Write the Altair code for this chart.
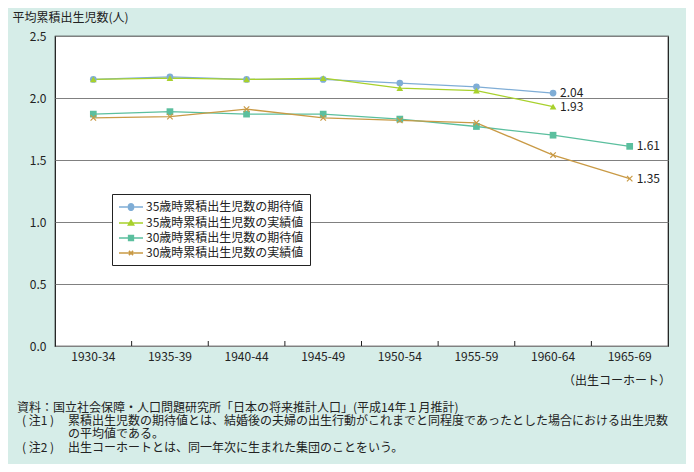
import altair as alt
import pandas as pd

cohorts = ["1930-34", "1935-39", "1940-44", "1945-49", "1950-54", "1955-59", "1960-64", "1965-69"]
series_names = [
    "35歳時累積出生児数の期待値",
    "35歳時累積出生児数の実績値",
    "30歳時累積出生児数の期待値",
    "30歳時累積出生児数の実績値",
]
exp35 = [2.15, 2.17, 2.15, 2.15, 2.12, 2.09, 2.04, None]
act35 = [2.15, 2.16, 2.15, 2.16, 2.08, 2.06, 1.93, None]
exp30 = [1.87, 1.89, 1.87, 1.87, 1.83, 1.77, 1.70, 1.61]
act30 = [1.84, 1.85, 1.91, 1.84, 1.82, 1.80, 1.54, 1.35]
end_labels = ["2.04", "1.93", "1.61", "1.35"]

colors = ["#7fadd6", "#a8d12c", "#5bbf9e", "#c99a45"]
marker_shapes = [
    "circle",
    "triangle-up",
    "square",
    "M-1,-1L1,1M-1,1L1,-1",
]
# legend symbols: a short line with the marker in its middle
legend_shapes = [
    "M-1,0H3M0.6,0A0.42,0.42 0 1 0 1.4,0A0.42,0.42 0 1 0 0.6,0Z",
    "M-1,0H3M0.55,0.35L1,-0.45L1.45,0.35Z",
    "M-1,0H3M0.6,-0.4H1.4V0.4H0.6Z",
    "M-1,0H3M0.65,-0.35L1.35,0.35M0.65,0.35L1.35,-0.35",
]

rows = []
for name, vals in zip(series_names, [exp35, act35, exp30, act30]):
    for c, v in zip(cohorts, vals):
        if v is not None:
            rows.append({"cohort": c, "value": v, "series": name})
df = pd.DataFrame(rows)

last_rows = []
for name, vals, lab in zip(series_names, [exp35, act35, exp30, act30], end_labels):
    idx = max(i for i, v in enumerate(vals) if v is not None)
    last_rows.append({"cohort": cohorts[idx], "value": vals[idx], "series": name, "label": lab})
df_last = pd.DataFrame(last_rows)

FONT = "Noto Sans CJK JP"
TXT = "#222222"

x_enc = alt.X(
    "cohort:N",
    sort=cohorts,
    scale=alt.Scale(type="band", domain=cohorts, paddingInner=0, paddingOuter=0),
    bandPosition=0.5,
    axis=alt.Axis(
        title=None, labelAngle=0, ticks=False, domain=False,
        labelFontSize=12, labelColor=TXT, labelPadding=5, labelFont=FONT,
    ),
)
y_scale = alt.Scale(domain=[0, 2.5], nice=False, zero=True)
y_enc = alt.Y(
    "value:Q",
    scale=y_scale,
    axis=alt.Axis(
        title="平均累積出生児数(人)",
        titleAngle=0, titleAlign="left", titleBaseline="middle",
        titleX=-43, titleY=-19, titleFontSize=12, titleFontWeight="normal",
        titleFont=FONT, titleColor=TXT,
        values=[0, 0.5, 1.0, 1.5, 2.0, 2.5], format=".1f",
        grid=True, gridColor="#808080", gridWidth=1,
        ticks=False, domain=False, labelPadding=9,
        labelFontSize=12, labelColor=TXT, labelFont=FONT,
    ),
)

color_scale = alt.Scale(domain=series_names, range=colors)

base = alt.Chart(df)

lines = base.mark_line(strokeWidth=1.3).encode(
    x=x_enc, y=y_enc,
    color=alt.Color("series:N", scale=color_scale, legend=None),
    detail="series:N",
)

point_layers = []
for name, shp, col in zip(series_names, marker_shapes, colors):
    is_cross = shp.startswith("M")
    pl = base.transform_filter(alt.datum.series == name).mark_point(
        shape=shp,
        filled=not is_cross,
        size=45 if not is_cross else 30,
        opacity=1,
        color=col,
        strokeWidth=1.2 if is_cross else 0,
    ).encode(x=x_enc, y=alt.Y("value:Q", scale=y_scale))
    point_layers.append(pl)

labels = alt.Chart(df_last).mark_text(
    align="left", baseline="middle", dx=7, fontSize=12, font=FONT, color=TXT
).encode(
    x=alt.X("cohort:N", sort=cohorts, bandPosition=0.5),
    y=alt.Y("value:Q", scale=y_scale),
    text="label:N",
)


def legend_def():
    return alt.Legend(
        title=None, orient="none", legendX=57, legendY=158,
        fillColor="white", strokeColor=TXT, padding=6,
        labelFontSize=12, labelFont=FONT, labelColor=TXT,
        symbolSize=144, symbolStrokeWidth=1.5, rowPadding=2,
        labelOffset=14, labelLimit=300,
    )


legend_layer = base.transform_filter("false").mark_point(
    filled=True, opacity=1, strokeWidth=1.5
).encode(
    x=alt.X("cohort:N", sort=cohorts, bandPosition=0.5),
    y=alt.Y("value:Q", scale=y_scale),
    fill=alt.Fill("series:N", scale=alt.Scale(domain=series_names, range=colors), legend=legend_def()),
    stroke=alt.Stroke("series:N", scale=alt.Scale(domain=series_names, range=colors), legend=legend_def()),
    shape=alt.Shape("series:N", scale=alt.Scale(domain=series_names, range=legend_shapes), legend=legend_def()),
)

tick_df = pd.DataFrame({"cohort": cohorts[1:]})
ticks = alt.Chart(tick_df).mark_rule(color=TXT, strokeWidth=1).encode(
    x=alt.X("cohort:N", sort=cohorts, bandPosition=0),
    y=alt.value(305),
    y2=alt.value(310),
)

note_texts = [
    "資料：国立社会保障・人口問題研究所「日本の将来推計人口」(平成14年１月推計)",
    "( 注1 )",
    "累積出生児数の期待値とは、結婚後の夫婦の出生行動がこれまでと同程度であったとした場合における出生児数",
    "の平均値である。",
    "( 注2 )",
    "出生コーホートとは、同一年次に生まれた集団のことをいう。",
]
note_x = [-38, -33, 13, 13, -33, 13]
note_y = [372, 385, 385, 398, 412, 412]

note_layers = []
for t, nx, ny in zip(note_texts, note_x, note_y):
    note_layers.append(
        alt.Chart(pd.DataFrame({"text": [t]})).mark_text(
            align="left", baseline="middle", fontSize=12, font=FONT, color=TXT
        ).encode(text="text:N", x=alt.value(nx), y=alt.value(ny))
    )

cohort_note = alt.Chart(pd.DataFrame({"text": ["（出生コーホート）"]})).mark_text(
    align="right", baseline="middle", fontSize=12, font=FONT, color=TXT
).encode(text="text:N", x=alt.value(616), y=alt.value(345))

chart = alt.layer(
    lines, *point_layers, labels, legend_layer, ticks, *note_layers, cohort_note
).resolve_scale(
    color="independent"
).properties(
    width=613, height=310,
    autosize=alt.AutoSizeParams(type="none"),
    padding={"left": 47, "top": 28, "right": 18, "bottom": 118},
    background="#d6ede8",
).configure_view(
    fill="white", stroke="#111111", strokeWidth=1.2,
)

chart.save("out.html", embed_options={"renderer": "svg", "actions": False})
